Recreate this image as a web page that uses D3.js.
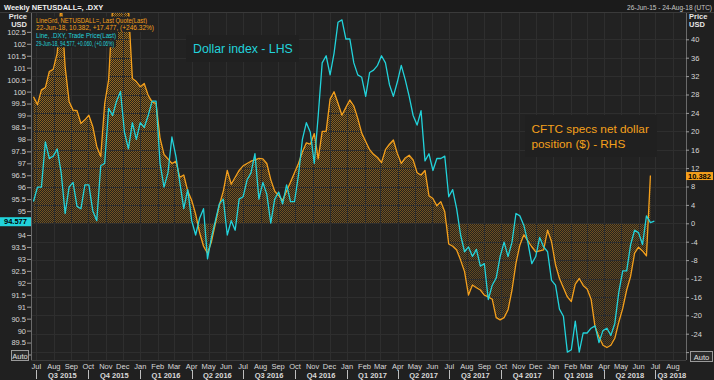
<!DOCTYPE html>
<html><head><meta charset="utf-8">
<script src="https://cdn.jsdelivr.net/npm/d3@7"></script>
<style>
html,body{margin:0;padding:0;background:#212121;}
svg{display:block;}
text{font-family:"Liberation Sans",Arial,sans-serif;}
</style></head><body>
<svg id="c" width="714" height="380"></svg>
<script>
// ---------------- data ----------------
const firstWeek = "2015-06-26";          // weekly observations (Fridays)
const domainStart = "2015-06-26";
const domainEnd = "2018-08-24";

// Dollar index (.DXY), weekly, LHS
const dxyValues = [
 95.4,96.0,96.0,97.9,97.2,97.3,97.6,96.6,94.9,96.0,96.2,95.2,95.1,96.1,96.1,95.0,94.6,96.9,97.0,99.3,99.0,99.6,100.0,98.3,97.6,98.7,98.0,
 98.7,98.5,99.0,99.6,99.6,97.0,96.0,96.6,98.1,97.3,96.2,95.1,95.9,94.6,94.0,94.7,95.1,93.0,93.9,94.6,95.3,95.5,94.0,94.6,94.2,95.5,
 95.6,96.3,96.6,97.4,95.5,96.2,95.7,94.5,95.5,95.8,95.3,96.1,95.4,95.4,96.5,98.0,98.7,98.3,97.0,99.0,101.2,101.5,100.7,101.6,102.9,103.0,102.2,
 102.2,101.2,100.7,100.6,99.8,100.8,100.9,101.1,101.5,101.2,100.3,99.8,100.4,101.1,100.5,99.8,99.0,98.6,99.2,97.1,97.4,96.7,97.2,97.2,97.3,
 95.6,95.9,95.1,94.0,93.3,93.5,93.1,93.4,92.7,92.8,91.3,91.9,92.2,93.1,93.7,93.1,93.7,94.9,94.8,94.4,93.7,92.8,93.1,93.9,93.5,93.3,92.1,
 91.9,90.9,90.6,89.1,89.2,90.4,89.1,89.9,89.9,90.1,90.2,89.5,90.0,90.1,89.8,90.3,91.6,92.5,92.5,93.6,94.2,94.1,93.6,94.8,94.517,94.577
];

// CFTC speculators' net dollar position ($bn), weekly, RHS
const cftcValues = [
 27.5,25.8,29.0,29.5,33.0,33.5,37.0,48.0,34.0,26.5,24.6,24.5,21.7,22.5,23.5,21.0,16.7,14.5,26.0,31.2,47.0,50.0,47.0,50.0,47.0,31.5,30.8,
 29.7,30.4,27.8,26.4,26.0,18.5,15.0,14.0,13.0,13.5,10.0,10.5,7.0,5.0,2.0,-2.0,-5.0,-6.5,-4.0,0.0,4.0,7.0,11.5,8.5,10.0,11.5,
 12.5,13.0,13.5,13.8,14.1,14.0,13.0,9.5,7.0,6.0,5.0,7.0,9.0,11.0,13.0,15.5,17.5,17.2,19.5,14.0,20.0,20.0,27.0,28.6,26.1,23.5,25.2,
 26.8,25.5,22.8,19.6,17.8,16.0,15.0,14.3,13.2,16.0,17.2,18.1,15.2,13.0,14.2,14.8,13.8,11.0,10.5,11.5,6.0,5.4,3.8,4.7,2.5,
 -4.5,-5.0,-5.8,-8.0,-10.5,-15.6,-13.4,-14.0,-14.5,-15.6,-16.0,-16.5,-20.5,-21.0,-20.5,-18.8,-14.5,-8.7,-4.7,-2.5,-3.8,-5.1,-6.2,-6.0,-5.8,-1.5,-4.0,
 -9.0,-12.0,-14.0,-16.0,-17.0,-13.2,-12.0,-13.5,-14.3,-16.5,-22.5,-24.7,-26.5,-27.0,-26.5,-25.0,-21.5,-18.5,-14.5,-11.5,-6.5,-5.2,-6.0,-7.095,10.382
];

const leftTicks = [89,89.5,90,90.5,91,91.5,92,92.5,93,93.5,94,94.5,95,95.5,96,96.5,97,97.5,98,98.5,99,99.5,100,100.5,101,101.5,102,102.5];
const rightTicks = [-28,-24,-20,-16,-12,-8,-4,0,4,8,12,16,20,24,28,32,36,40];
const quarterLabels = ["Q3 2015","Q4 2015","Q1 2016","Q2 2016","Q3 2016","Q4 2016","Q1 2017","Q2 2017","Q3 2017","Q4 2017","Q1 2018","Q2 2018","Q3 2018"];

const titleText = "Weekly NETUSDALL=, .DXY";
const rangeText = "26-Jun-15 - 24-Aug-18 (UTC)";
const legendLines = [
  {t:"LineGrd, NETUSDALL=, Last Quote(Last)", c:"orange", w:111},
  {t:"22-Jun-18, 10.382, +17.477, (+246.32%)", c:"orange", w:118},
  {t:"Line, .DXY, Trade Price(Last)", c:"cyan", w:80},
  {t:"29-Jun-18, 94.577, +0.060, (+0.06%)", c:"cyan", w:78}
];
const dxyLabel = "Dollar index - LHS";
const cftcLabel = ["CFTC specs net dollar","position ($) - RHS"];
const lastDxy = 94.577, lastCftc = 10.382;

// ---------------- drawing ----------------
const ORANGE = "#f5a01c", CYAN = "#22d3db";
const colorOf = {orange: ORANGE, cyan: CYAN};
const svg = d3.select("#c");
const P = {l:31, r:686, t:13, b:360};
const day = 864e5;
const t0 = new Date(firstWeek + "T00:00:00Z");
const dxy = dxyValues.map((v,i)=>({date:new Date(+t0 + i*7*day), v}));
const cftc = cftcValues.map((v,i)=>({date:new Date(+t0 + i*7*day), v}));

const x = d3.scaleUtc().domain([new Date(domainStart+"T00:00:00Z"), new Date(domainEnd+"T00:00:00Z")]).range([33.5, 686]);
const yL = d3.scaleLinear().domain([89,103]).range([354.5,19.9]);
const yR = d3.scaleLinear().domain([-28,40]).range([352.1,39.3]);

const BG = "#222222";
// backgrounds
svg.append("rect").attr("width",714).attr("height",380).attr("fill","#202020");
svg.append("rect").attr("width",714).attr("height",13).attr("fill","#1b1b1b");
svg.append("line").attr("x1",0).attr("x2",714).attr("y1",12.5).attr("y2",12.5).attr("stroke","#3a3a3a");
svg.append("rect").attr("x",P.l).attr("y",P.t).attr("width",P.r-P.l).attr("height",P.b-P.t).attr("fill",BG);

const defs = svg.append("defs");
defs.append("clipPath").attr("id","clip").append("rect")
  .attr("x",P.l).attr("y",P.t).attr("width",P.r-P.l).attr("height",P.b-P.t);
const pat = defs.append("pattern").attr("id","hatch").attr("patternUnits","userSpaceOnUse")
  .attr("width",2).attr("height",2);
pat.append("rect").attr("width",2).attr("height",2).attr("fill","#2a2419");
pat.append("rect").attr("width",1).attr("height",1).attr("fill","#c4841f");
pat.append("rect").attr("x",1).attr("y",1).attr("width",1).attr("height",1).attr("fill","#c4841f");
const grad = defs.append("linearGradient").attr("id","fade").attr("gradientUnits","userSpaceOnUse")
  .attr("x1",0).attr("y1",P.t).attr("x2",0).attr("y2",P.b);
grad.append("stop").attr("offset",0).attr("stop-color","#d0d0d0");
grad.append("stop").attr("offset",1).attr("stop-color","#444444");
defs.append("mask").attr("id","fadeMask").attr("maskUnits","userSpaceOnUse")
  .attr("x",0).attr("y",0).attr("width",714).attr("height",380)
  .append("rect").attr("x",P.l).attr("y",P.t).attr("width",P.r-P.l).attr("height",P.b-P.t).attr("fill","url(#fade)");

const months = d3.utcMonth.range(d3.utcMonth.ceil(x.domain()[0]), x.domain()[1]);

// annotation boxes (behind lines)
svg.append("rect").attr("x",186).attr("y",35).attr("width",113).attr("height",27).attr("fill","#202020");
svg.append("rect").attr("x",525).attr("y",115).attr("width",132).attr("height",42).attr("fill","#202020");

const plotG = svg.append("g").attr("clip-path","url(#clip)");
plotG.append("path").datum(cftc)
  .attr("d", d3.area().x(d=>x(d.date)).y0(yR(0)).y1(d=>yR(d.v)))
  .attr("fill","url(#hatch)").attr("mask","url(#fadeMask)");

// grid (drawn over the hatched fill, under the lines)
const grid = plotG.append("g");
grid.selectAll("line.v").data(months).join("line")
  .attr("x1",d=>Math.round(x(d))+0.5).attr("x2",d=>Math.round(x(d))+0.5)
  .attr("y1",P.t).attr("y2",P.b).attr("stroke","#2e2e2e");
grid.selectAll("line.h").data(rightTicks).join("line")
  .attr("x1",P.l).attr("x2",P.r)
  .attr("y1",d=>Math.round(yR(d))+0.5).attr("y2",d=>Math.round(yR(d))+0.5).attr("stroke","#2e2e2e");
// keep annotation boxes clean of grid
plotG.append("rect").attr("x",186).attr("y",35).attr("width",113).attr("height",27).attr("fill","#202020");
plotG.append("rect").attr("x",525).attr("y",115).attr("width",132).attr("height",42).attr("fill","#202020");

plotG.append("path").datum(cftc)
  .attr("d", d3.line().x(d=>x(d.date)).y(d=>yR(d.v)))
  .attr("fill","none").attr("stroke",ORANGE).attr("stroke-width",1.3).attr("stroke-linejoin","round");
plotG.append("path").datum(dxy)
  .attr("d", d3.line().x(d=>x(d.date)).y(d=>yL(d.v)))
  .attr("fill","none").attr("stroke",CYAN).attr("stroke-width",1.3).attr("stroke-linejoin","round");

// axes
const fmtL = d=> (d===89||d===94.5) ? "" : d3.format("")(d);
const axL = svg.append("g").attr("transform",`translate(${P.l},0)`)
  .call(d3.axisLeft(yL).tickValues(leftTicks).tickSize(4).tickSizeOuter(0).tickFormat(fmtL));
const fmtR = d=> d===-28 ? "" : d;
const axR = svg.append("g").attr("transform",`translate(${P.r},0)`)
  .call(d3.axisRight(yR).tickValues(rightTicks).tickSize(3).tickSizeOuter(0).tickFormat(fmtR));
[axL,axR].forEach(a=>{
  a.select(".domain").attr("stroke","#6a6a6a").attr("d", `M0.5,${P.t}V${P.b}`);
  a.selectAll(".tick line").attr("stroke","#9a9a9a");
  a.selectAll(".tick text").attr("fill","#d8d8d8").attr("font-size",7.5).attr("font-family","Liberation Sans, Arial, sans-serif");
});
axL.selectAll(".tick text").attr("x",-5);
axR.selectAll(".tick text").attr("x",5);

// bottom line
svg.append("line").attr("x1",P.l).attr("x2",P.r).attr("y1",P.b+0.5).attr("y2",P.b+0.5).attr("stroke","#3c3c3c");

// x axis: months and quarters
const xg = svg.append("g");
xg.selectAll("text.m").data(months).join("text")
  .attr("x",d=>x(d)).attr("y",368.5).attr("text-anchor","middle")
  .attr("font-size",7.5).attr("fill","#d8d8d8").text(d=>d3.utcFormat("%b")(d));
const quarters = d3.utcMonth.every(3).range(d3.utcMonth.ceil(x.domain()[0]), x.domain()[1]);
xg.selectAll("line.q").data(quarters).join("line")
  .attr("x1",d=>Math.round(x(d))+0.5).attr("x2",d=>Math.round(x(d))+0.5)
  .attr("y1",370).attr("y2",379).attr("stroke","#bdbdbd");
xg.selectAll("text.q").data(quarters).join("text")
  .attr("x",(d,i)=>{const e=d3.utcMonth.offset(d,3); return e>x.domain()[1] ? x(d)+2 : (x(d)+x(e))/2;})
  .attr("text-anchor",(d)=> d3.utcMonth.offset(d,3)>x.domain()[1] ? "start":"middle")
  .attr("y",377.5).attr("font-size",7.5).attr("font-weight","bold").attr("fill","#d8d8d8")
  .text((d,i)=>quarterLabels[i]);

// titles
svg.append("text").attr("x",4).attr("y",9.5).attr("font-size",7.5).attr("font-weight","bold").attr("fill","#f0f0f0").text(titleText);
svg.append("text").attr("x",712).attr("y",9.5).attr("text-anchor","end").attr("font-size",6.5).attr("fill","#c8c8c8").text(rangeText);
[["Price",19],["USD",27]].forEach(([t,yy])=>{
  svg.append("text").attr("x",27).attr("y",yy).attr("text-anchor","end").attr("font-size",7.5).attr("font-weight","bold").attr("fill","#e6e6e6").text(t);
  svg.append("text").attr("x",689).attr("y",yy).attr("font-size",7.5).attr("font-weight","bold").attr("fill","#e6e6e6").text(t);
});

// legend (each line on its own opaque strip)
legendLines.forEach((l,i)=>{
  const top = 16.5 + i*7.7;
  svg.append("rect").attr("x",33).attr("y",top).attr("width",l.w+5).attr("height",7.7).attr("fill",BG);
  svg.append("text").attr("x",36).attr("y",top+6.2).attr("font-size",6.8)
    .attr("textLength",l.w).attr("lengthAdjust","spacingAndGlyphs")
    .attr("fill",colorOf[l.c]).text(l.t);
});

// annotations
svg.append("text").attr("x",193).attr("y",52.5).attr("font-size",12.3).attr("font-family","Lato, sans-serif").attr("fill",CYAN).text(dxyLabel);
cftcLabel.forEach((t,i)=>{
  svg.append("text").attr("x",531.5).attr("y",132.5+i*15).attr("font-size",11.8).attr("font-family","Lato, sans-serif").attr("fill",ORANGE).text(t);
});

// last value boxes
const yDx = yL(lastDxy);
svg.append("rect").attr("x",0).attr("y",yDx-4).attr("width",31).attr("height",9).attr("fill",CYAN);
svg.append("text").attr("x",15.5).attr("y",yDx+3).attr("text-anchor","middle").attr("font-size",7.5).attr("font-weight","bold").attr("fill","#000").text(d3.format(".3f")(lastDxy));
const yCf = yR(lastCftc);
svg.append("rect").attr("x",686).attr("y",yCf-3.5).attr("width",27).attr("height",8).attr("fill",ORANGE);
svg.append("text").attr("x",699.5).attr("y",yCf+3).attr("text-anchor","middle").attr("font-size",7.5).attr("font-weight","bold").attr("fill","#000").text(d3.format(".3f")(lastCftc));

// Auto buttons
[[11,350,17],[690,351,22]].forEach(([bx,by,bw])=>{
  svg.append("rect").attr("x",bx+0.5).attr("y",by+0.5).attr("width",bw).attr("height",10).attr("fill","#2a2a2a").attr("stroke","#9a9a9a");
  svg.append("text").attr("x",bx+bw/2+0.5).attr("y",by+8.5).attr("text-anchor","middle").attr("font-size",7.5).attr("fill","#e0e0e0").text("Auto");
});
</script>
</body></html>
